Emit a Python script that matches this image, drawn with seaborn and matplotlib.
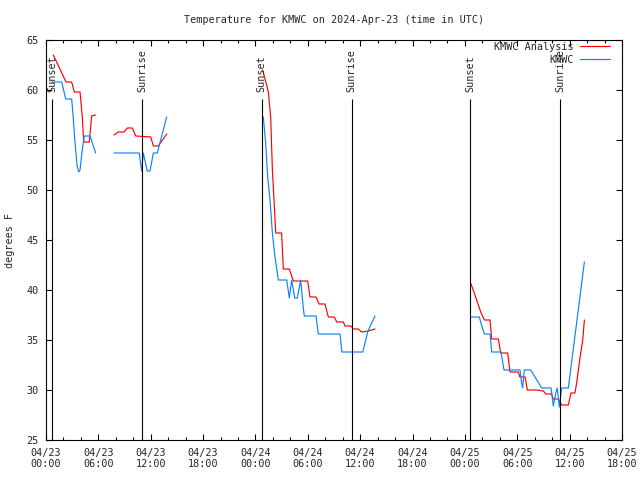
import numpy as np
import pandas as pd
import seaborn as sns
import matplotlib.pyplot as plt
import matplotlib.dates as mdates

# hours since 2024-04-23 00:00 UTC, NaN marks a gap in the record
ana_hours = [0.84, 2.29, 2.94, 3.25, 3.90, 4.16, 4.32, 4.97, 5.23, 5.69, np.nan,
             7.79, 8.29, 8.94, 9.32, 9.89, 10.28, 12.0, 12.3, 12.87, 13.83, np.nan,
             24.83, 25.48, 25.75, 25.94, 26.17, 26.32, 27.0, 27.19, 27.88, 28.34,
             29.98, 30.25, 30.94, 31.28, 31.97, 32.35, 33.04, 33.31, 34.07, 34.26,
             34.95, 35.21, 35.79, 36.17, 36.93, 37.7, np.nan,
             48.66, 49.35, 49.81, 50.23, 50.88, 51.07, 51.83, 52.1, 52.9, 53.17,
             54.12, 54.3, 54.9, 55.15, 56.22, 56.98, 57.29, 57.94, 58.13, 58.7,
             59.09, 59.85, 60.16, 60.61, 60.8, 61.2, 61.5, 61.69]
ana_temps = [63.5, 60.8, 60.8, 59.8, 59.8, 57.3, 54.8, 54.8, 57.4, 57.5, np.nan,
             55.5, 55.8, 55.8, 56.2, 56.2, 55.4, 55.3, 54.4, 54.4, 55.6, np.nan,
             62.0, 59.8, 57.2, 52.0, 48.3, 45.7, 45.7, 42.1, 42.1, 40.9,
             40.9, 39.3, 39.3, 38.6, 38.6, 37.3, 37.3, 36.8, 36.8, 36.4,
             36.4, 36.1, 36.1, 35.8, 35.9, 36.1, np.nan,
             40.7, 39.0, 37.8, 37.0, 37.0, 35.1, 35.1, 33.7, 33.7, 31.8,
             31.8, 31.3, 31.3, 30.0, 30.0, 29.9, 29.6, 29.6, 29.1, 29.1,
             28.5, 28.5, 29.7, 29.7, 30.7, 33.3, 35.0, 37.0]

obs_hours = [0.65, 1.8, 2.26, 2.94, 3.1, 3.3, 3.55, 3.75, 3.9, 4.15, 4.39, 5.04, 5.2, 5.69, np.nan,
             7.79, 10.69, 10.96, 11.15, 11.6, 11.92, 12.3, 12.75, 13.83, np.nan,
             24.9, 25.17, 25.4, 25.67, 25.94, 26.24, 26.62, 27.58, 27.88, 28.15,
             28.5, 28.8, 29.18, 29.48, 29.6, 30.94, 31.2, 33.69, 33.9, 36.3,
             36.5, 36.86, 37.2, 37.7, np.nan,
             48.66, 49.65, 49.9, 50.23, 50.88, 51.07, 52.14, 52.48, 54.31, 54.5,
             54.62, 54.8, 55.54, 56.8, 57.87, 58.13, 58.44, 58.58, 58.82, 59.09,
             59.85, 61.69]
obs_temps = [60.8, 60.8, 59.1, 59.1, 57.5, 55.0, 52.5, 51.8, 52.0, 54.0, 55.4, 55.4, 55.0, 53.7, np.nan,
             53.7, 53.7, 51.9, 53.7, 51.9, 51.9, 53.7, 53.7, 57.3, np.nan,
             57.3, 54.7, 51.3, 49.0, 45.7, 43.3, 41.0, 41.0, 39.2, 41.0,
             39.2, 39.2, 41.0, 38.2, 37.4, 37.4, 35.6, 35.6, 33.8, 33.8,
             34.5, 35.8, 36.5, 37.4, np.nan,
             37.3, 37.3, 36.5, 35.6, 35.6, 33.8, 33.8, 32.0, 32.0, 30.7,
             30.2, 32.0, 32.0, 30.2, 30.2, 28.4, 29.8, 30.2, 28.3, 30.2,
             30.2, 42.8]

sun_events = ["Sunset", "Sunrise", "Sunset", "Sunrise", "Sunset", "Sunrise"]
sun_hours = [0.72, 11.03, 24.72, 35.02, 48.62, 58.93]

start = pd.Timestamp("2024-04-23 00:00")


def to_frame(hours, temps, name):
    d = pd.DataFrame({"hours": hours, "temp": temps})
    d["segment"] = d["hours"].isna().cumsum()
    d = d.dropna()
    d["time"] = start + pd.to_timedelta(d["hours"], unit="h")
    d["series"] = name
    d["segment"] = name + d["segment"].astype(str)
    return d


df = pd.concat([to_frame(ana_hours, ana_temps, "KMWC Analysis"),
                to_frame(obs_hours, obs_temps, "KMWC")], ignore_index=True)

sns.set_style("ticks")
plt.rcParams["font.family"] = ["DejaVu Sans Mono"]
plt.rcParams["font.size"] = 7.3

fig = plt.figure(figsize=(6.4, 4.8), dpi=100)
ax = fig.add_axes([46 / 640, 40 / 480, 576 / 640, 400 / 480])

palette = {"KMWC Analysis": "#ff0000", "KMWC": "#0a84ff"}
sns.lineplot(data=df, x="time", y="temp", hue="series", units="segment",
             estimator=None, palette=palette, linewidth=0.85, ax=ax, sort=False)

# sunrise / sunset markers
for name, h in zip(sun_events, sun_hours):
    t = start + pd.Timedelta(hours=h)
    ax.vlines(t, 25, 59.1, color="black", linewidth=0.8, zorder=3)
    ax.text(t, 59.8, name, rotation=90, ha="center", va="bottom", fontsize=7.3)

ax.set_xlim(start, start + pd.Timedelta(hours=66))
ax.set_ylim(25, 65)
ax.set_yticks(range(25, 66, 5))
ax.xaxis.set_major_locator(mdates.HourLocator(byhour=range(0, 24, 6)))
ax.xaxis.set_minor_locator(mdates.HourLocator(byhour=range(0, 24, 2)))
ax.xaxis.set_major_formatter(mdates.DateFormatter("%m/%d\n%H:%M"))
ax.tick_params(which="both", direction="in", top=True, right=True,
               color="black", labelsize=7.3, width=0.8)
ax.tick_params(which="major", length=4.3, pad=5.5)
ax.tick_params(which="minor", length=2.5)
for s in ax.spines.values():
    s.set_color("black")
    s.set_linewidth(0.8)

ax.set_xlabel("")
ax.set_ylabel("degrees F", labelpad=8)
ax.set_title("Temperature for KMWC on 2024-Apr-23 (time in UTC)", pad=12, fontsize=7.3)

handles, labels = ax.get_legend_handles_labels()
ax.legend(handles, labels, loc="upper right", bbox_to_anchor=(1 - 10 / 576, 1.0),
          frameon=False, markerfirst=False, handlelength=3.0, handletextpad=0.6,
          labelspacing=0.25, borderaxespad=0.1, borderpad=0.1, fontsize=7.3)

fig.savefig("out.png", dpi=100)
